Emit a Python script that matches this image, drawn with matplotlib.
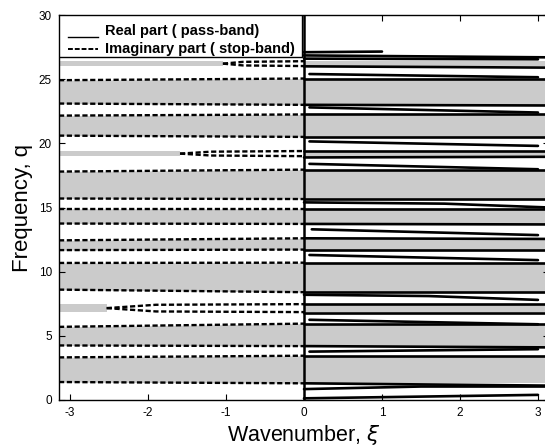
import numpy as np
import matplotlib
matplotlib.use("Agg")
import matplotlib.pyplot as plt
from matplotlib.lines import Line2D
from matplotlib.patches import Rectangle

plt.rcParams['font.family'] = ['Liberation Sans', 'DejaVu Sans']
plt.rcParams['axes.unicode_minus'] = False

# ---------------- data ----------------
# wide stop bands: edge frequencies at xi=-pi (left) and xi=0 (right)
band_lo_left  = [1.40, 4.25, 8.60, 11.68, 13.75, 15.70, 20.60, 23.10]
band_lo_right = [1.30, 4.20, 8.40, 11.72, 13.72, 15.66, 20.50, 23.00]
band_hi_left  = [3.32, 5.70, 10.68, 12.44, 14.90, 17.80, 22.16, 24.92]
band_hi_right = [3.45, 5.95, 10.70, 12.60, 14.90, 17.95, 22.25, 25.05]

# narrow stop bands: low/high edge and tip of imaginary part
thin_lo  = [6.85, 19.00, 26.02]
thin_hi  = [7.47, 19.40, 26.40]
thin_tip = [-2.53, -1.59, -1.04]

# real-part curves (pass bands), each: xi points and q points
real_xi = [
    [0.0, 3.1416], [0.0, 1.5, 3.1416], [0.0, 3.0],
    [0.0, 3.1416], [0.07, 3.0], [0.0, 3.1416],
    [0.0, 3.1416], [0.07, 3.0], [0.0, 3.1416],
    [0.0, 3.1416], [0.0, 1.6, 3.0], [0.0, 3.1416],
    [0.0, 3.1416], [0.07, 3.0], [0.0, 3.1416],
    [0.0, 3.1416], [0.1, 3.0], [0.0, 3.1416],
    [0.0, 3.1416], [0.0, 1.8, 3.1416], [0.0, 3.1416],
    [0.0, 3.1416], [0.07, 3.0], [0.0, 3.1416],
    [0.0, 3.1416], [0.07, 3.0], [0.0, 3.1416],
    [0.0, 3.1416], [0.07, 3.0], [0.0, 3.1416],
    [0.0, 3.1416], [0.07, 3.0], [0.0, 3.1416],
    [0.0, 3.1416], [0.0, 3.0], [0.0, 1.0],
]
real_q = [
    [1.30, 1.12], [0.85, 1.05, 1.05], [0.13, 0.40],
    [4.20, 4.10], [3.77, 3.96], [3.45, 3.45],
    [6.80, 6.80], [6.25, 5.90], [5.95, 5.95],
    [8.40, 8.40], [8.20, 8.10, 7.80], [7.47, 7.47],
    [11.68, 11.68], [11.30, 10.90], [10.70, 10.70],
    [13.72, 13.68], [13.30, 12.85], [12.60, 12.55],
    [15.66, 15.66], [15.40, 15.30, 15.00], [14.90, 14.90],
    [18.90, 18.95], [18.40, 17.98], [17.95, 17.95],
    [20.50, 20.50], [20.15, 19.80], [19.40, 19.40],
    [23.00, 22.95], [22.80, 22.40], [22.25, 22.25],
    [26.00, 25.90], [25.40, 25.15], [25.05, 25.05],
    [26.85, 26.70], [26.60, 26.55], [27.10, 27.15],
]

x_ticks = [-3, -2, -1, 0, 1, 2, 3]
y_ticks = [0, 5, 10, 15, 20, 25, 30]

# ---------------- figure ----------------
W, H = 545, 446
fig = plt.figure(figsize=(W / 100, H / 100), dpi=100)
ax = fig.add_axes([59 / W, 46 / H, 490 / W, 385 / H])
ax.set_xlim(-np.pi, np.pi)
ax.set_ylim(0, 30)

gray = '#cbcbcb'
PI = np.pi
dash = (0, (2.2, 1.1))

for lo_l, lo_r, hi_l, hi_r in zip(band_lo_left, band_lo_right, band_hi_left, band_hi_right):
    ax.fill_between([-PI, 0], [lo_l, lo_r], [hi_l, hi_r], color=gray, lw=0, zorder=1)
    ax.fill_between([0, PI], [lo_r, lo_r], [hi_r, hi_r], color=gray, lw=0, zorder=1)
    ax.plot([-PI, 0], [lo_l, lo_r], color='black', lw=1.7, ls=dash, zorder=3)
    ax.plot([-PI, 0], [hi_l, hi_r], color='black', lw=1.7, ls=dash, zorder=3)

for lo, hi, tip in zip(thin_lo, thin_hi, thin_tip):
    mid = 0.5 * (lo + hi)
    ax.fill_between([-PI, tip], [lo, lo], [hi, hi], color=gray, lw=0, zorder=1)
    ax.fill_between([0, PI], [lo, lo], [hi, hi], color=gray, lw=0, zorder=1)
    ax.plot([tip, tip + 0.25 * (0 - tip), 0], [mid, hi - 0.05, hi],
            color='black', lw=1.7, ls=dash, zorder=3)
    ax.plot([tip, tip + 0.25 * (0 - tip), 0], [mid, lo + 0.05, lo],
            color='black', lw=1.7, ls=dash, zorder=3)

for xs, qs in zip(real_xi, real_q):
    ax.plot(xs, qs, color='black', lw=1.9, solid_capstyle='round', zorder=3)

ax.axvline(0, color='black', lw=1.8, zorder=4)

ax.set_xticks(x_ticks)
ax.set_yticks(y_ticks)
ax.tick_params(direction='in', top=True, right=True, length=4, width=0.8,
               labelsize=8.5, pad=5)
for s in ax.spines.values():
    s.set_linewidth(1.0)

ax.set_xlabel(r'Wavenumber, $\xi$', fontsize=15.5, labelpad=3)
ax.set_ylabel('Frequency, q', fontsize=16, labelpad=4)

# legend box (MATLAB style)
lx0, ly0 = 0.0, 1 - 42 / 385
lw_, lh_ = 243 / 490, 42 / 385
ax.add_patch(Rectangle((lx0, ly0), lw_, lh_, transform=ax.transAxes,
                       facecolor='white', edgecolor='black', lw=1.0, zorder=10))
ax.add_line(Line2D([9 / 490, 39 / 490], [1 - 22 / 385, 1 - 22 / 385],
                   transform=ax.transAxes, color='black', lw=1.0, zorder=11))
ax.add_line(Line2D([9 / 490, 39 / 490], [1 - 34 / 385, 1 - 34 / 385],
                   transform=ax.transAxes, color='black', lw=1.4,
                   ls=(0, (2.5, 1.0)), zorder=11))
ax.text(46 / 490, 1 - 16 / 385, 'Real part ( pass-band)', transform=ax.transAxes,
        fontsize=10.5, fontweight='bold', va='center', ha='left', zorder=12)
ax.text(46 / 490, 1 - 34 / 385, 'Imaginary part ( stop-band)', transform=ax.transAxes,
        fontsize=10.5, fontweight='bold', va='center', ha='left', zorder=12)

fig.savefig('out.png', dpi=100)
